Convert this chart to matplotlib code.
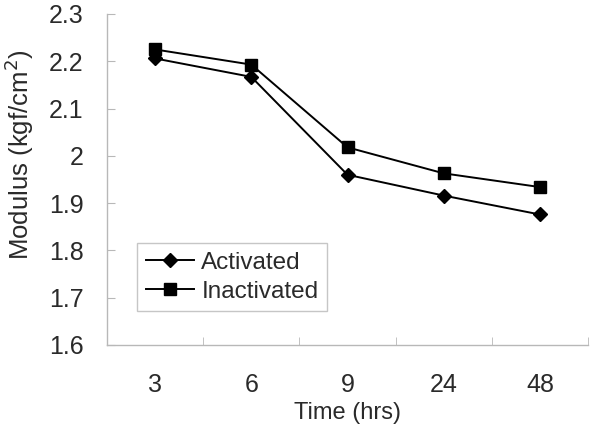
import matplotlib
matplotlib.use("Agg")
import matplotlib.pyplot as plt
import numpy as np

categories = ["3", "6", "9", "24", "48"]
activated = [2.206, 2.167, 1.960, 1.916, 1.876]
inactivated = [2.225, 2.193, 2.018, 1.963, 1.934]
yticks = [1.6, 1.7, 1.8, 1.9, 2.0, 2.1, 2.2, 2.3]
yticklabels = ["1.6", "1.7", "1.8", "1.9", "2", "2.1", "2.2", "2.3"]

plt.rcParams['font.family'] = ['Liberation Sans', 'DejaVu Sans']
txt = '#2a2a2a'
grey = '#b8b8b8'

fig = plt.figure(figsize=(5.96, 4.26), dpi=100)
ax = fig.add_axes([107/596, 1-345/426, (588-107)/596, (345-14)/426])

x = np.arange(len(categories))
ax.plot(x, activated, color='black', lw=1.4, marker='D', ms=7, label='Activated')
ax.plot(x, inactivated, color='black', lw=1.4, marker='s', ms=8.5, label='Inactivated')

ax.set_xlim(-0.5, len(categories) - 0.5)
ax.set_ylim(1.6, 2.3)
ax.set_yticks(yticks)
ax.set_yticklabels(yticklabels)
ax.set_xticks(x)
ax.set_xticklabels(categories)
ax.set_xticks(np.arange(-0.5, len(categories), 1.0), minor=True)

for s in ['top', 'right']:
    ax.spines[s].set_visible(False)
for s in ['left', 'bottom']:
    ax.spines[s].set_color(grey)
    ax.spines[s].set_linewidth(1.0)

ax.tick_params(axis='y', direction='in', length=6, color=grey, labelsize=18, labelcolor=txt, pad=17)
ax.tick_params(axis='x', which='major', length=0, labelsize=18, labelcolor=txt, pad=20)
ax.tick_params(axis='x', which='minor', direction='in', length=6, color=grey)

fig.text(2/596, 1-155/426, 'Modulus (kgf/cm$^2$)', fontsize=18.5, color=txt,
         rotation=90, ha='left', va='center')
fig.text(347/596, 2/426, 'Time (hrs)', fontsize=17, color=txt, ha='center', va='bottom')

leg = ax.legend(loc='upper left', bbox_to_anchor=((137-107)/481, (345-243)/331),
                frameon=True, fancybox=False, fontsize=17.5, handlelength=2.0,
                labelcolor=txt, borderpad=0.35, labelspacing=0.3, handletextpad=0.3,
                borderaxespad=0)
leg.get_frame().set_edgecolor(grey)
leg.get_frame().set_linewidth(1.0)

fig.savefig('out.png', dpi=100)
